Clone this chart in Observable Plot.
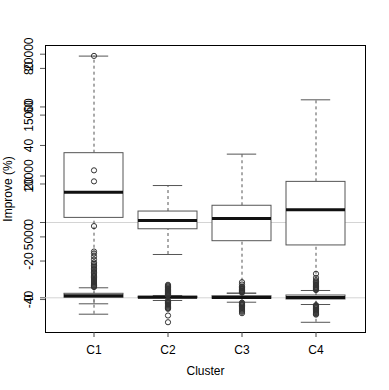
<!DOCTYPE html>
<html><head><meta charset="utf-8">
<script src="https://cdn.jsdelivr.net/npm/d3@7"></script>
<script src="https://cdn.jsdelivr.net/npm/@observablehq/plot@0.6"></script>
<style>
body{margin:0;background:#fff;}
#chart{position:relative;width:389px;height:390px;background:#fff;}
#chart svg{position:absolute;left:0;top:0;}
</style></head><body><div id="chart"></div>
<script>
const categories = ["C1", "C2", "C3", "C4"];

// Improve (%) boxplots
const pctLow = [-47.6, -16.6, -36.7, -51.8];
const pctQ1 = [2.4, -3.5, -9.7, -11.9];
const pctMedian = [15.7, 1.0, 2.1, 6.6];
const pctQ3 = [36.0, 5.7, 8.7, 21.1];
const pctHigh = [86.4, 19.2, 35.5, 63.7];
const pctTicks = [-40, -20, 0, 20, 40, 60, 80];

// Absolute improvement boxplots (overlaid second plot)
const absLow = [-493, -222, -362, -551];
const absQ1 = [0, -40, -82, -140];
const absMedian = [164, 50, 25, 25];
const absQ3 = [329, 90, 131, 189];
const absHigh = [822, 189, 378, 600];
const absOutC1 = [19860, 10464, 9560, 5885, 3800, 3640, 3390, 3150, 2900, 2780, 2660, 2540, 2420, 2300, 2190, 2080, 1970, 1860, 1760, 1660, 1560, 1470, 1380, 1300, 1220, 1140, 1070, 1000, 940, 880];
const absOutC2 = [1067, 990, 920, 850, 790, 730, 670, 610, 560, 510, 460, 410, 360, 320, 280, 240, 210, -240, -290, -340, -400, -460, -520, -590, -660, -730, -800, -860, -903, -1455, -2006];
const absOutC3 = [1280, 1090, 928, 850, 790, 730, 670, 610, 560, 510, 460, 420, -400, -450, -510, -570, -630, -700, -770, -840, -910, -990, -1070, -1150, -1264];
const absOutC4 = [1970, 1640, 1450, 1340, 1240, 1150, 1070, 990, 920, 860, 800, 745, 690, 640, -600, -650, -700, -760, -820, -880, -950, -1020, -1100, -1180, -1260, -1320, -1380];
const absTicks = [0, 5000, 10000, 15000, 20000];

const pctRows = categories.map((c, i) => ({cat: c, lo: pctLow[i], q1: pctQ1[i], med: pctMedian[i], q3: pctQ3[i], hi: pctHigh[i]}));
const absRows = categories.map((c, i) => ({cat: c, lo: absLow[i], q1: absQ1[i], med: absMedian[i], q3: absQ3[i], hi: absHigh[i]}));
const absOuts = [absOutC1, absOutC2, absOutC3, absOutC4].flatMap((arr, i) => arr.map(v => ({cat: categories[i], v})));

const FONT = "'Liberation Sans', Arial, Helvetica, sans-serif";
const LINE = "#555";

function boxMarks(rows, outs) {
  const dash = "3,3";
  const cap = 14.8;
  const m = [
    Plot.ruleX(rows, {x: "cat", y1: "q3", y2: "hi", stroke: LINE, strokeDasharray: dash}),
    Plot.ruleX(rows, {x: "cat", y1: "lo", y2: "q1", stroke: LINE, strokeDasharray: dash}),
    Plot.tickY(rows, {x: "cat", y: "hi", stroke: LINE, insetLeft: cap, insetRight: cap}),
    Plot.tickY(rows, {x: "cat", y: "lo", stroke: LINE, insetLeft: cap, insetRight: cap}),
    Plot.barY(rows, {x: "cat", y1: "q1", y2: "q3", fill: "white", stroke: LINE}),
    Plot.tickY(rows, {x: "cat", y: "med", stroke: "#111", strokeWidth: 3})
  ];
  if (outs) m.push(Plot.dot(outs, {x: "cat", y: "v", r: 2.6, stroke: "#333", strokeWidth: 1, fill: "none"}));
  return m;
}

const common = {
  width: 389, height: 390,
  marginLeft: 45, marginRight: 24, marginTop: 45, marginBottom: 58,
  style: {fontFamily: FONT, fontSize: "12px", background: "transparent", overflow: "visible", color: "black"}
};
const xScale = {type: "band", domain: categories, paddingInner: 0.2, paddingOuter: 0.26, label: null};

function yLabels(ticks) {
  return Plot.text(ticks, {y: d => d, text: d => String(d), frameAnchor: "left", rotate: -90,
    textAnchor: "middle", lineAnchor: "middle", dx: -16, fontSize: 12, fill: "black"});
}

const plotA = Plot.plot({
  ...common,
  x: xScale,
  y: {domain: [-57.1, 91.9], label: null},
  marks: [
    Plot.ruleY([0], {stroke: "#d4d4d4"}),
    ...boxMarks(pctRows, null),
    Plot.frame({stroke: "black"}),
    Plot.axisX({tickSize: 5, tickPadding: 8, label: null, fontSize: 12, stroke: "#444"}),
    Plot.axisY(pctTicks, {tickSize: 5, tickFormat: () => "", label: null, stroke: "#555"}),
    yLabels(pctTicks),
    Plot.text(["Cluster"], {frameAnchor: "bottom", dy: 39, lineAnchor: "middle", fontSize: 12, fill: "black"}),
    Plot.text(["Improve (%)"], {frameAnchor: "left", dx: -37, rotate: -90, lineAnchor: "middle", textAnchor: "middle", fontSize: 12, fill: "black"})
  ]
});

const plotB = Plot.plot({
  ...common,
  x: {...xScale, axis: null},
  y: {domain: [-2849, 20714], label: null},
  marks: [
    Plot.ruleY([0], {stroke: "#d4d4d4"}),
    ...boxMarks(absRows, absOuts),
    Plot.axisY(absTicks, {tickSize: 5, tickFormat: () => "", label: null, stroke: "#555"}),
    yLabels(absTicks)
  ]
});

const el = document.getElementById("chart");
el.append(plotA, plotB);
</script></body></html>
